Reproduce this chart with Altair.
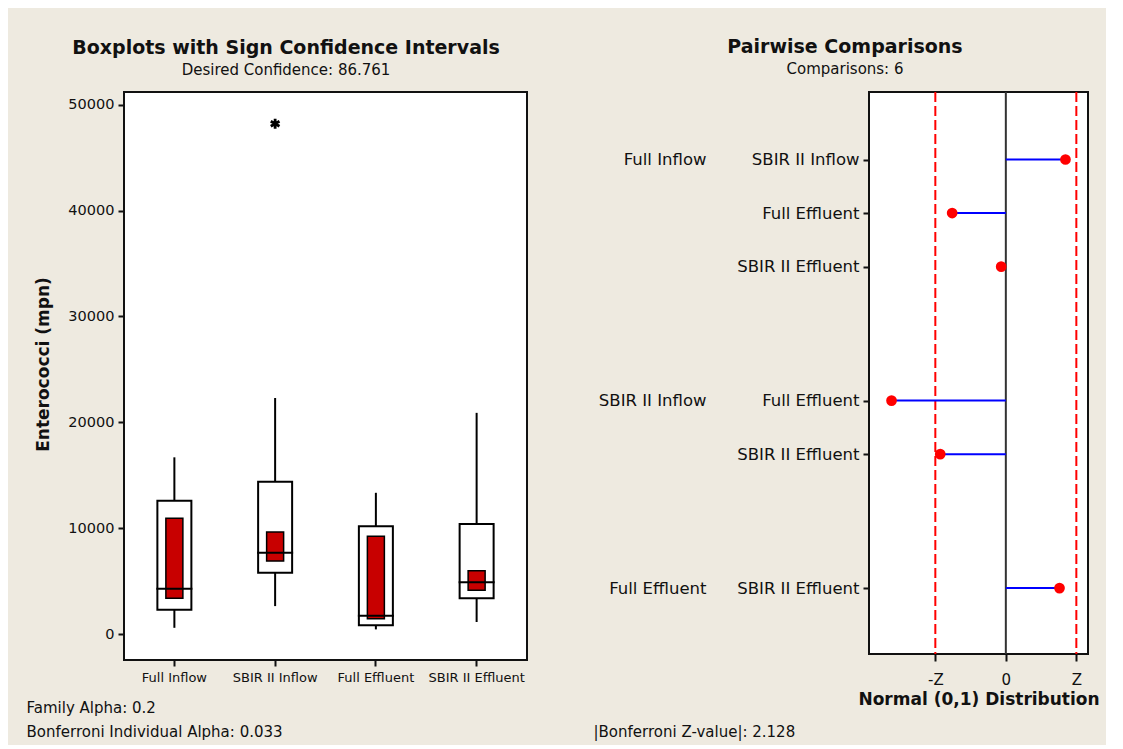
import altair as alt
import pandas as pd

# ---------------- data ----------------
groups = ["Full Inflow", "SBIR II Inflow", "Full Effluent", "SBIR II Effluent"]
whisker_low = [600, 2650, 450, 1150]
q1 = [2300, 5800, 850, 3400]
median = [4300, 7700, 1750, 4900]
q3 = [12600, 14400, 10200, 10400]
whisker_high = [16700, 22300, 13350, 20900]
ci_low = [3400, 6900, 1450, 4150]
ci_high = [10950, 9650, 9250, 6000]
outlier_group = ["SBIR II Inflow"]
outlier_value = [48200]
y_ticks = [0, 10000, 20000, 30000, 40000, 50000]

pair_first = ["Full Inflow", "Full Inflow", "Full Inflow",
              "SBIR II Inflow", "SBIR II Inflow", "Full Effluent"]
pair_second = ["SBIR II Inflow", "Full Effluent", "SBIR II Effluent",
               "Full Effluent", "SBIR II Effluent", "SBIR II Effluent"]
z_values = [1.80, -1.62, -0.14, -3.45, -1.98, 1.62]
z_crit = 2.128
null_value = [0.0]

FONT = "DejaVu Sans"
INK = "#111111"

# ---------------- left: boxplots ----------------
box_df = pd.DataFrame({
    "group": groups, "whisker_low": whisker_low, "q1": q1, "median": median,
    "q3": q3, "whisker_high": whisker_high, "ci_low": ci_low, "ci_high": ci_high,
})
out_df = pd.DataFrame({"group": outlier_group, "value": outlier_value})

x_scale_l = alt.Scale(domain=groups, paddingInner=0, paddingOuter=0)
x_axis_l = alt.Axis(
    title=["Family Alpha: 0.2", "Bonferroni Individual Alpha: 0.033"],
    labelAngle=0, labelFontSize=13, tickSize=6, labelPadding=5, labelOverlap=False,
    titleX=-98, titleY=40, titleAlign="left", titleAnchor="start", titleBaseline="top",
    titleFontSize=15, titleFontWeight="normal", titleLineHeight=24,
)
y_scale_l = alt.Scale(domain=[-2440, 51200], nice=False, zero=False)
y_axis_l = alt.Axis(
    values=y_ticks, format="d", title="Enterococci (mpn)",
    titleFontSize=17, titleFontWeight="bold", titleX=-81, titleY=272,
    titleBaseline="middle", labelFontSize=14.5, tickSize=6, labelPadding=4,
)


def XL(field="group"):
    return alt.X(f"{field}:N", sort=groups, scale=x_scale_l, axis=x_axis_l)


def YL(field):
    return alt.Y(f"{field}:Q", scale=y_scale_l, axis=y_axis_l)


base = alt.Chart(box_df).encode(x=XL())
whisk_hi = base.mark_rule(color="black", strokeWidth=2).encode(y=YL("q3"), y2="whisker_high:Q")
whisk_lo = base.mark_rule(color="black", strokeWidth=2).encode(y=YL("whisker_low"), y2="q1:Q")
box = base.mark_bar(size=34, fill="white", stroke="black", strokeWidth=2).encode(
    y=YL("q1"), y2="q3:Q")
ci = base.mark_bar(size=17, fill="#C80000", stroke="black", strokeWidth=1.5).encode(
    y=YL("ci_low"), y2="ci_high:Q")
med = base.mark_tick(size=36, thickness=2, color="black", opacity=1).encode(y=YL("median"))
outl = alt.Chart(out_df).mark_point(
    shape="M0,-1L0,1M-0.87,-0.5L0.87,0.5M-0.87,0.5L0.87,-0.5",
    size=100, strokeWidth=2.8, color="black", filled=False, opacity=1,
).encode(x=XL(), y=YL("value"))

left = alt.layer(whisk_hi, whisk_lo, box, ci, med, outl).properties(
    width=403, height=568,
    title=alt.TitleParams(
        text="Boxplots with Sign Confidence Intervals",
        subtitle="Desired Confidence: 86.761",
        anchor="middle", frame="group", dx=-39.5, offset=14,
        fontSize=19, fontWeight="bold", subtitleFontSize=15, subtitlePadding=5,
    ),
)

# ---------------- right: pairwise comparisons ----------------
pos = []
p = 0.0
for i, f in enumerate(pair_first):
    if i > 0:
        p += 1.0 if f == pair_first[i - 1] else 2.5
    pos.append(p)

pair_df = pd.DataFrame({"first": pair_first, "second": pair_second,
                        "z": z_values, "pos": pos, "zero": 0.0})
grp_df = pair_df.drop_duplicates("first")
crit_df = pd.DataFrame({"v": [-z_crit, z_crit]})
null_df = pd.DataFrame({"v": null_value})


def label_expr(values, labels):
    expr = "''"
    for v, lab in reversed(list(zip(values, labels))):
        expr = f"abs(datum.value - {v}) < 0.01 ? '{lab}' : ({expr})"
    return expr


x_scale_r = alt.Scale(domain=[-4.13, 2.48], nice=False, zero=False)
y_scale_r = alt.Scale(domain=[-1.26, 9.23], nice=False, zero=False, reverse=True)

x_axis_r = alt.Axis(
    values=[-z_crit, 0, z_crit],
    labelExpr="datum.value < 0 ? '-Z' : (datum.value > 0 ? 'Z' : '0')",
    title="Normal (0,1) Distribution", titleFontSize=17, titleFontWeight="bold",
    titlePadding=4, labelFontSize=15, tickSize=7, labelPadding=11,
)
y_axis_inner = alt.Axis(
    values=pos, labelExpr=label_expr(pos, pair_second), title=None,
    labelFontSize=16.5, tickSize=6, labelPadding=4,
)
note_axis = alt.Axis(
    orient="bottom", labels=False, ticks=False, domain=False, grid=False,
    title="|Bonferroni Z-value|: 2.128", titleX=-276, titleY=70,
    titleAlign="left", titleAnchor="start", titleBaseline="top",
    titleFontSize=15, titleFontWeight="normal",
)
y_axis_outer = alt.Axis(
    orient="left", values=list(grp_df["pos"]),
    labelExpr=label_expr(list(grp_df["pos"]), list(grp_df["first"])),
    title=None, ticks=False, tickSize=0, domain=False, labelPadding=0,
    offset=163, labelFontSize=16.5,
)

crit = alt.Chart(crit_df).mark_rule(color="#FF0000", strokeDash=[10, 4], strokeWidth=2).encode(
    x=alt.X("v:Q", scale=x_scale_r, axis=x_axis_r))
zero_rule = alt.Chart(null_df).mark_rule(color="#333333", strokeWidth=2).encode(
    x=alt.X("v:Q", scale=x_scale_r, axis=x_axis_r))
stems = alt.Chart(pair_df).mark_rule(color="#0000FF", strokeWidth=2).encode(
    x=alt.X("zero:Q", scale=x_scale_r, axis=x_axis_r), x2="z:Q",
    y=alt.Y("pos:Q", scale=y_scale_r, axis=y_axis_inner))
dots = alt.Chart(pair_df).mark_circle(color="#FF0000", size=115, opacity=1).encode(
    x=alt.X("z:Q", scale=x_scale_r, axis=x_axis_r),
    y=alt.Y("pos:Q", scale=y_scale_r, axis=y_axis_inner))
grp = alt.Chart(grp_df).mark_point(opacity=0).encode(
    x=alt.X("z:Q", scale=x_scale_r, axis=note_axis),
    y=alt.Y("pos:Q", scale=y_scale_r, axis=y_axis_outer))

right = alt.layer(alt.layer(crit, zero_rule, stems, dots), grp).resolve_axis(
    x="independent", y="independent"
).properties(
    width=219, height=562,
    title=alt.TitleParams(
        text="Pairwise Comparisons", subtitle="Comparisons: 6",
        anchor="middle", frame="group", dx=-133.5, offset=14,
        fontSize=19, fontWeight="bold", subtitleFontSize=15, subtitlePadding=5,
    ),
)

chart = alt.hconcat(left, right, spacing=342, bounds="flush").configure(
    background="#EEEAE0",
    padding={"left": 17, "top": 29, "right": 5, "bottom": 5},
    font=FONT,
).configure_view(
    stroke=INK, strokeWidth=2, fill="white",
).configure_axis(
    grid=False, domain=False, labelFont=FONT, titleFont=FONT,
    labelColor=INK, titleColor=INK, tickColor=INK, tickWidth=2,
).configure_title(
    font=FONT, subtitleFont=FONT, color=INK, subtitleColor=INK,
)

chart.save("out.html", embed_options={"renderer": "svg", "actions": False})
